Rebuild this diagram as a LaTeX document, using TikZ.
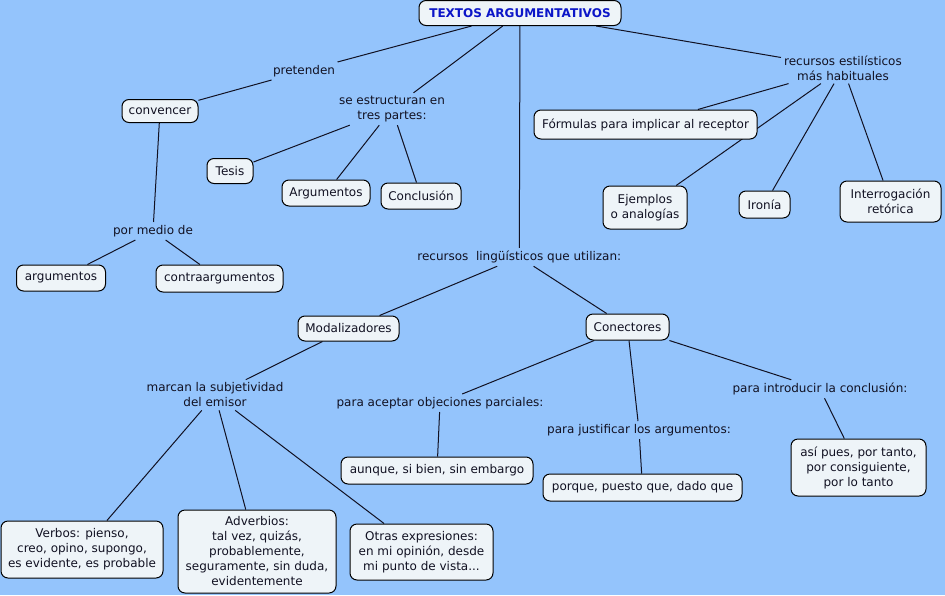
\documentclass[tikz,border=0pt]{standalone}
\usepackage{fontspec}
\setmainfont{DejaVu Sans}
\definecolor{bgblue}{HTML}{94C4FC}
\definecolor{nodefill}{HTML}{EEF4F8}
\definecolor{titleblue}{HTML}{0C16C8}
\definecolor{txt}{HTML}{111122}
\pgfdeclarelayer{back}
\pgfdeclarelayer{lines}
\pgfsetlayers{back,lines,main}
\tikzset{
  concept/.style={draw=black, fill=nodefill, rounded corners=7pt, line width=1pt,
    align=center, inner sep=0pt, text=txt, font=\fontsize{12}{15}\selectfont},
  linklabel/.style={align=center, inner sep=3pt, text=txt, font=\fontsize{12}{15}\selectfont},
  conn/.style={draw=txt, line width=1pt},
  sz/.style 2 args={minimum width=#1pt, minimum height=#2pt}
}
\begin{document}
\begin{tikzpicture}[x=1pt,y=-1pt]
\begin{pgfonlayer}{back}
\fill[bgblue] (0,0) rectangle (945,595);
\end{pgfonlayer}
\useasboundingbox (0,0) rectangle (945,595);

% concepts
\node[concept, sz={202}{25}, font=\bfseries\fontsize{12}{15}\selectfont, text=titleblue] (title) at (520,13) {TEXTOS ARGUMENTATIVOS};
\node[concept, sz={76}{23}] (conv) at (160,111) {convencer};
\node[concept, sz={46}{25}] (tesis) at (230,171) {Tesis};
\node[concept, sz={88}{26}] (argu) at (326,193) {Argumentos};
\node[concept, sz={80}{26}] (concl) at (421,196) {Conclusión};
\node[concept, sz={89}{26}] (argmin) at (61,278) {argumentos};
\node[concept, sz={127}{27}] (contra) at (219.5,278.5) {contraargumentos};
\node[concept, sz={223}{29}] (form) at (645.5,124.5) {Fórmulas para implicar al receptor};
\node[concept, sz={84}{43}] (ejem) at (645,207.5) {Ejemplos\\o analogías};
\node[concept, sz={51}{27}] (iron) at (764.5,204.5) {Ironía};
\node[concept, sz={101}{41}] (inter) at (890.5,201.5) {Interrogación\\retórica};
\node[concept, sz={101}{25}] (modal) at (348.5,328.5) {Modalizadores};
\node[concept, sz={83}{26}] (conec) at (627.5,327) {Conectores};
\node[concept, sz={192}{27}] (aunque) at (437,470.5) {aunque, si bien, sin embargo};
\node[concept, sz={199}{27}] (porque) at (642.5,487.5) {porque, puesto que, dado que};
\node[concept, sz={135}{57}] (asi) at (858.5,467.5) {así pues, por tanto,\\por consiguiente,\\por lo tanto};
\node[concept, sz={162}{57}] (verbos) at (82,549.5) {Verbos: pienso,\\creo, opino, supongo,\\es evidente, es probable};
\node[concept, sz={158}{83}] (adv) at (257,551.5) {Adverbios:\\tal vez, quizás,\\probablemente,\\seguramente, sin duda,\\evidentemente};
\node[concept, sz={143}{56}] (otras) at (421.5,552) {Otras expresiones:\\en mi opinión, desde\\mi punto de vista...};

% linking phrases
\node[linklabel] (pret) at (304,71) {pretenden};
\node[linklabel] (estr) at (392,109) {se estructuran en\\tres partes:};
\node[linklabel] (medio) at (153,231) {por medio de};
\node[linklabel] (ling) at (519.3,257) {recursos\ \ lingüísticos que utilizan:};
\node[linklabel] (estil) at (843,68) {recursos estilísticos\\más habituales};
\node[linklabel] (marcan) at (215,395) {marcan la subjetividad\\del emisor};
\node[linklabel] (acept) at (440,403) {para aceptar objeciones parciales:};
\node[linklabel] (just) at (639,430) {para justificar los argumentos:};
\node[linklabel] (intro) at (820,389) {para introducir la conclusión:};

% connectors
\begin{pgfonlayer}{lines}
\draw[conn] (title) -- (pret);
\draw[conn] (pret) -- (conv);
\draw[conn] (title) -- (estr);
\draw[conn] (estr) -- (tesis);
\draw[conn] (estr) -- (argu);
\draw[conn] (estr) -- (concl);
\draw[conn] (conv) -- (medio);
\draw[conn] (medio) -- (argmin);
\draw[conn] (medio) -- (contra);
\draw[conn] (title) -- (ling);
\draw[conn] (ling) -- (modal);
\draw[conn] (ling) -- (conec);
\draw[conn] (title) -- (estil);
\draw[conn] (estil) -- (form);
\draw[conn] (estil) -- (ejem);
\draw[conn] (estil) -- (iron);
\draw[conn] (estil) -- (inter);
\draw[conn] (modal) -- (marcan);
\draw[conn] (marcan) -- (verbos);
\draw[conn] (marcan) -- (adv);
\draw[conn] (marcan) -- (otras);
\draw[conn] (conec) -- (acept);
\draw[conn] (acept) -- (aunque);
\draw[conn] (conec) -- (just);
\draw[conn] (just) -- (porque);
\draw[conn] (conec) -- (intro);
\draw[conn] (intro) -- (asi);
\end{pgfonlayer}
\end{tikzpicture}
\end{document}
